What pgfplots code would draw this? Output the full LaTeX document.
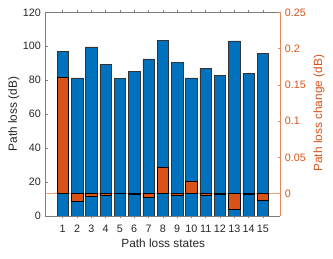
\documentclass[border=0pt]{standalone}
\usepackage{pgfplots}
\pgfplotsset{compat=1.18}
\usepackage{fontspec}
\setmainfont{Liberation Sans}
\definecolor{mblue}{RGB}{0,114,189}
\definecolor{morange}{RGB}{217,83,25}
\definecolor{axgray}{RGB}{125,125,125}
\definecolor{txt}{RGB}{38,38,38}
\begin{document}
\begin{tikzpicture}
\useasboundingbox (0,0) rectangle (333bp,259bp);
\pgfplotsset{
  common/.style={
    scale only axis, width=235bp, height=203.7bp,
    at={(45.3bp,43bp)}, anchor=south west,
    xmin=-0.22, xmax=16.22,
    tick align=inside,
    major tick length=2.4bp,
    /pgf/number format/assume math mode=true,
    tick label style={font=\fontsize{10.8}{12}\selectfont, text=txt},
    label style={font=\fontsize{11.9}{14}\selectfont},
    ybar, bar width=0.8, bar shift=0pt,
  }
}
\begin{axis}[common,
  ymin=0, ymax=120, ytick={0,20,40,60,80,100,120},
  xtick={1,...,15}, xtick pos=both, ytick pos=left,
  axis line style={axgray, line width=0.5pt},
  every tick/.style={axgray, line width=0.5pt},
  axis x line*=box, axis y line*=left,
  xticklabel style={yshift=-3.3bp},
  yticklabel style={xshift=-1bp},
  xlabel={Path loss states}, ylabel={Path loss (dB)},
  xlabel style={at={(axis description cs:0.502,-0.134)}, anchor=center, text=txt},
  ylabel style={at={(axis description cs:-0.1345,0.5)}, anchor=center, text=txt},
]
\addplot[fill=mblue, draw=black!80, line width=0.5pt] coordinates {
(1,96.8) (2,81.4) (3,99.6) (4,89.2) (5,81.1) (6,85.3) (7,92.5) (8,103.3)
(9,90.7) (10,81.3) (11,87.0) (12,82.9) (13,103.1) (14,84.1) (15,95.9)};
\end{axis}
\begin{axis}[common,
  ymin=-0.0307, ymax=0.25, ytick={0,0.05,0.1,0.15,0.2,0.25},
  yticklabels={0,0.05,0.1,0.15,0.2,0.25},
  axis x line=none, axis y line*=right,
  axis line style={morange!70, line width=0.5pt},
  every tick/.style={morange!70, line width=0.5pt},
  yticklabel style={text=morange, xshift=1bp},
  ylabel={Path loss change (dB)},
  ylabel style={at={(axis description cs:1.165,0.504)}, anchor=center, text=morange},
]
\draw[morange!55, line width=0.6pt] (axis cs:-0.22,0) -- (axis cs:16.22,0);
\addplot[fill=morange, draw=black, line width=0.5pt] coordinates {
(1,0.1604) (2,-0.0101) (3,-0.003) (4,-0.0023) (5,0.0002) (6,-0.0003) (7,-0.0046) (8,0.0358)
(9,-0.0023) (10,0.0165) (11,-0.002) (12,-0.0003) (13,-0.0211) (14,-0.0002) (15,-0.0087)};
\end{axis}
\end{tikzpicture}
\end{document}
